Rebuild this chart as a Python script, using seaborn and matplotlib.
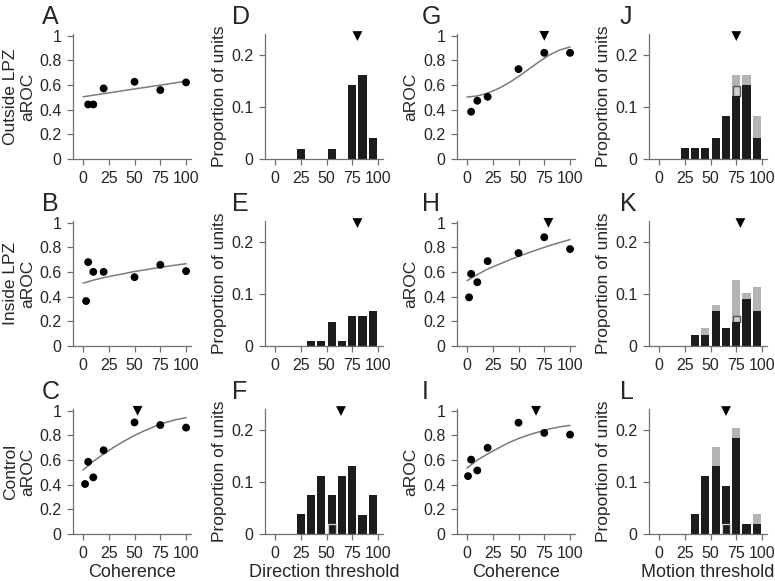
import numpy as np
import pandas as pd
import matplotlib
matplotlib.use('Agg')
import matplotlib.pyplot as plt
import seaborn as sns

sns.set_style('ticks')
plt.rcParams['font.family'] = ['Liberation Sans', 'DejaVu Sans']

# ---- scatter panels (aROC vs coherence) ----
coh_A = [5, 10, 20, 50, 75, 100]
roc_A = [0.443, 0.443, 0.573, 0.627, 0.56, 0.622]
coh_B = [3, 5, 10, 20, 50, 75, 100]
roc_B = [0.365, 0.681, 0.602, 0.602, 0.559, 0.659, 0.608]
coh_C = [2, 5, 10, 20, 50, 75, 100]
roc_C = [0.406, 0.586, 0.46, 0.68, 0.906, 0.885, 0.864]
coh_G = [4, 10, 20, 50, 75, 100]
roc_G = [0.384, 0.473, 0.505, 0.73, 0.862, 0.862]
coh_H = [2, 4, 10, 20, 50, 75, 100]
roc_H = [0.395, 0.586, 0.518, 0.689, 0.755, 0.883, 0.787]
coh_I = [1, 4, 10, 20, 50, 75, 100]
roc_I = [0.47, 0.604, 0.516, 0.70, 0.904, 0.821, 0.807]

# fitted curves
fit_x = [0, 10, 20, 30, 40, 50, 60, 70, 80, 90, 100]
fit_A = [0.505, 0.518, 0.531, 0.543, 0.556, 0.569, 0.581, 0.594, 0.606, 0.619, 0.632]
fit_B = [0.51, 0.535, 0.555, 0.572, 0.588, 0.605, 0.618, 0.632, 0.645, 0.657, 0.668]
fit_C = [0.52, 0.59, 0.65, 0.705, 0.755, 0.80, 0.84, 0.875, 0.905, 0.928, 0.945]
fit_G = [0.503, 0.512, 0.535, 0.57, 0.615, 0.67, 0.73, 0.79, 0.845, 0.885, 0.91]
fit_H = [0.53, 0.58, 0.625, 0.66, 0.695, 0.728, 0.758, 0.787, 0.815, 0.84, 0.864]
fit_I = [0.535, 0.60, 0.65, 0.695, 0.74, 0.775, 0.805, 0.83, 0.853, 0.87, 0.882]

# threshold markers (None = no marker)
tri_scatter = {'A': None, 'B': None, 'C': 53, 'G': 75, 'H': 79, 'I': 67}

# ---- histogram panels ----
bins = [5, 15, 25, 35, 45, 55, 65, 75, 85, 95]
D_black = [0, 0, 0.02, 0, 0, 0.02, 0, 0.142, 0.162, 0.041]
E_black = [0, 0, 0, 0.0104, 0.0104, 0.0456, 0.0104, 0.057, 0.057, 0.068]
F_black = [0, 0, 0.0376, 0.074, 0.111, 0.074, 0.111, 0.13, 0.037, 0.074]
F_low = [0, 0, 0, 0, 0, 0.019, 0, 0, 0, 0]
J_black = [0, 0, 0.0206, 0.0206, 0.0206, 0.041, 0.082, 0.1215, 0.1415, 0.041]
J_total = [0, 0, 0.0206, 0.0206, 0.0206, 0.041, 0.082, 0.162, 0.162, 0.082]
J_box = [0, 0, 0, 0, 0, 0, 0, 0.14, 0, 0]
K_black = [0, 0, 0, 0.022, 0.022, 0.068, 0.034, 0.0456, 0.091, 0.068]
K_total = [0, 0, 0, 0.022, 0.034, 0.079, 0.034, 0.126, 0.102, 0.114]
K_box = [0, 0, 0, 0, 0, 0, 0, 0.057, 0, 0]
L_black = [0, 0, 0, 0.0376, 0.111, 0.13, 0.093, 0.185, 0.019, 0.019]
L_total = [0, 0, 0, 0.0376, 0.111, 0.167, 0.093, 0.203, 0.019, 0.0376]
L_low = [0, 0, 0, 0, 0, 0, 0.019, 0, 0, 0]

tri_hist = {'D': 80, 'E': 80, 'F': 64, 'J': 75, 'K': 79, 'L': 65}

BLACK = '#1c1c1c'
GREY = '#b3b3b3'
SPINE = '#707070'

fig = plt.figure(figsize=(7.75, 5.81), dpi=100)
W, H = 775.0, 581.0
col_left = [72.7, 264.7, 456.7, 648.7]
row_bottom = [159, 346, 534]
ax_w, ax_h = 118.5, 125
# right edge of the y label block, in pixels left of the axes
ylab_off = [37.7, 37.7, 38.7, 37.7]


def make_ax(col, row):
    ax = fig.add_axes([col_left[col] / W, (H - row_bottom[row]) / H, ax_w / W, ax_h / H])
    sns.despine(ax=ax)
    for s in ['left', 'bottom']:
        ax.spines[s].set_color(SPINE)
        ax.spines[s].set_linewidth(0.9)
    ax.tick_params(direction='out', length=4, width=0.9, color=SPINE, labelsize=11.5)
    ax.tick_params(axis='x', pad=5)
    ax.tick_params(axis='y', pad=4)
    ax.set_xlim(-10, 105)
    ax.set_xticks([0, 25, 50, 75, 100])
    ax.set_xticklabels(['0', '25', '50', '75', '100'])
    return ax


def put_ylabel(ax, col, txt):
    ax.set_ylabel(txt, fontsize=12.5, linespacing=1.15)
    ax.yaxis.set_label_coords(-ylab_off[col] / ax_w, 0.5)


def letter(col, row, txt):
    top = row_bottom[row] - ax_h
    x = [42, 232, 422, 620][col]
    fig.text(x / W, (H - (top - 10)) / H, txt, fontsize=18, va='baseline', ha='left')


def scatter_panel(col, row, name, xs, ys, fit, ylabel):
    ax = make_ax(col, row)
    sns.lineplot(x=fit_x, y=fit, ax=ax, color='#7a7a7a', lw=1.1)
    sns.scatterplot(x=xs, y=ys, ax=ax, color='black', s=32, edgecolor='none', zorder=3)
    if tri_scatter[name] is not None:
        sns.scatterplot(x=[tri_scatter[name]], y=[1.0], ax=ax, marker='v', color='black',
                        s=50, edgecolor='none', clip_on=False, zorder=4)
    ax.set_ylim(0, 1.015)
    ax.set_yticks([0, 0.2, 0.4, 0.6, 0.8, 1.0])
    ax.set_yticklabels(['0', '0.2', '0.4', '0.6', '0.8', '1'])
    put_ylabel(ax, col, ylabel)
    letter(col, row, name)
    return ax


def hist_panel(col, row, name, black, total=None, box=None, low=None):
    ax = make_ax(col, row)
    if total is not None:
        ax.bar(bins, total, width=8, color=GREY, linewidth=0)
    if box is not None:
        for b, v, t in zip(bins, black, box):
            if t > 0:
                ax.bar(b, t - v, bottom=v, width=6.6, color='#cfcfcf', edgecolor='#555555', linewidth=1.0)
    df = pd.DataFrame({'bin': bins, 'val': black})
    sns.barplot(data=df, x='bin', y='val', ax=ax, native_scale=True, width=0.8,
                color=BLACK, saturation=1, errorbar=None, linewidth=0)
    if low is not None:
        for b, v in zip(bins, low):
            if v > 0:
                ax.bar(b, v, width=8, color=BLACK, edgecolor='#d0d0d0', linewidth=0.9)
    sns.scatterplot(x=[tri_hist[name]], y=[0.236], ax=ax, marker='v', color='black',
                    s=50, edgecolor='none', clip_on=False, zorder=4)
    ax.set_xlim(-10, 105)
    ax.set_xticks([0, 25, 50, 75, 100])
    ax.set_xticklabels(['0', '25', '50', '75', '100'])
    ax.set_ylim(0, 0.24)
    ax.set_yticks([0, 0.1, 0.2])
    ax.set_yticklabels(['0', '0.1', '0.2'])
    ax.set_xlabel('')
    put_ylabel(ax, col, 'Proportion of units')
    letter(col, row, name)
    return ax


scatter_panel(0, 0, 'A', coh_A, roc_A, fit_A, 'Outside LPZ\naROC')
scatter_panel(0, 1, 'B', coh_B, roc_B, fit_B, 'Inside LPZ\naROC')
axC = scatter_panel(0, 2, 'C', coh_C, roc_C, fit_C, 'Control\naROC')
axC.set_xlabel('Coherence', fontsize=13, labelpad=2)

hist_panel(1, 0, 'D', D_black)
hist_panel(1, 1, 'E', E_black)
axF = hist_panel(1, 2, 'F', F_black, low=F_low)
axF.set_xlabel('Direction threshold', fontsize=13, labelpad=2)

scatter_panel(2, 0, 'G', coh_G, roc_G, fit_G, 'aROC')
scatter_panel(2, 1, 'H', coh_H, roc_H, fit_H, 'aROC')
axI = scatter_panel(2, 2, 'I', coh_I, roc_I, fit_I, 'aROC')
axI.set_xlabel('Coherence', fontsize=13, labelpad=2)

hist_panel(3, 0, 'J', J_black, total=J_total, box=J_box)
hist_panel(3, 1, 'K', K_black, total=K_total, box=K_box)
axL = hist_panel(3, 2, 'L', L_black, total=L_total, low=L_low)
axL.set_xlabel('Motion threshold', fontsize=13, labelpad=2)

fig.savefig('out.png', dpi=100)
